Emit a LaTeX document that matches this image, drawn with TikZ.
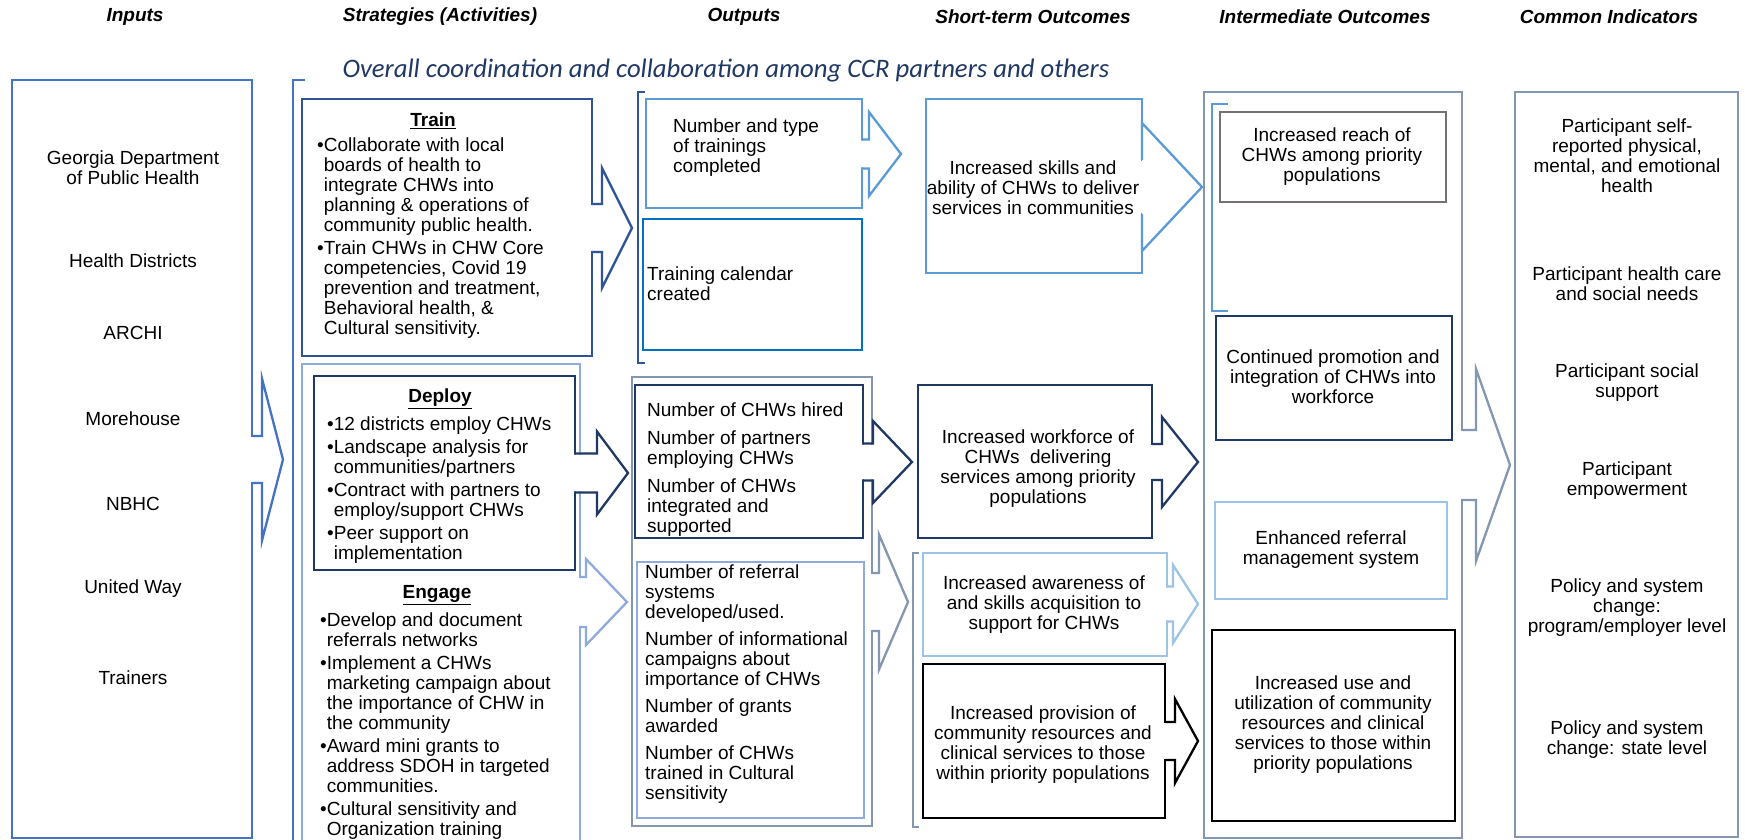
\documentclass[tikz,border=0pt]{standalone}
\usepackage{fontspec}
\setmainfont{Liberation Sans}
\newfontfamily\calfont{Carlito}
\usetikzlibrary{fit}
\definecolor{cIn}{HTML}{4472C4}
\definecolor{cTr}{HTML}{2F5597}
\definecolor{cLb}{HTML}{8FAADC}
\definecolor{cNv}{HTML}{1F3864}
\definecolor{cMb}{HTML}{5B9BD5}
\definecolor{cCal}{HTML}{0070C0}
\definecolor{cGb}{HTML}{8497B0}
\definecolor{cVl}{HTML}{9DC3E6}
\definecolor{cGr}{HTML}{767171}
\definecolor{cOv}{HTML}{203864}
\newcommand\fs{\fontsize{19}{20}\selectfont}
\newcommand\bl{•}
\newcommand\hg{\phantom{•}}
% #1 colour, #2 box edge x, #3 shaft end x, #4 tip x, #5 centre y, #6 shaft half, #7 head half
\newcommand\barrow[7]{%
  \fill[white] (#2-1.4,#5-#6+1.2) -- (#3,#5-#6+1.2) -- (#3,#5-#7) -- (#4,#5) -- (#3,#5+#7) -- (#3,#5+#6-1.2) -- (#2-1.4,#5+#6-1.2) -- cycle;
  \draw[draw=#1, lw, line join=miter] (#2,#5-#6) -- (#3,#5-#6) -- (#3,#5-#7) -- (#4,#5) -- (#3,#5+#7) -- (#3,#5+#6) -- (#2,#5+#6);
}
\begin{document}
\begin{tikzpicture}[x=1pt, y=-1pt,
  lw/.style={line width=2.3pt},
  bx/.style={draw=#1, line width=2.3pt, inner sep=0pt, fill=white},
  txt/.style={font=\fs, inner sep=0pt, align=center},
  ltxt/.style={font=\fs, inner sep=0pt, align=left},
  hd/.style={font=\fs\bfseries\itshape, inner sep=0pt},
  ttl/.style={font=\fs\bfseries, inner sep=0pt}]
\useasboundingbox (0,0) rectangle (1745,840);
\fill[white] (0,0) rectangle (1745,840);

% headers
\node[hd] (hIn) at (135,17) {Inputs};
\node[hd] (hSt) at (440,17) {Strategies (Activities)};
\node[hd] (hOu) at (744,17) {Outputs};
\node[hd] (hSh) at (1033,17) {Short-term Outcomes};
\node[hd] (hIm) at (1325,17) {Intermediate Outcomes};
\node[hd] (hCo) at (1609,17) {Common Indicators};
\node[font=\calfont\itshape\fontsize{26.7}{28}\selectfont, text=cOv, inner sep=0pt] (overall) at (726,71) {Overall coordination and collaboration among CCR partners and others};

% brackets
\draw[cIn, lw] (305,80) -- (293,80) -- (293,845);
\draw[cTr, lw] (645,92) -- (638,92) -- (638,363) -- (645,363);
\draw[cGb, lw] (919,553) -- (913,553) -- (913,827) -- (919,827);

% outer boxes
\node[bx=cIn, fit={(12,80)(252,838)}] (inputs) {};
\node[bx=cLb, fit={(302,364)(580,848)}] (strat2) {};
\node[bx=cGb, fit={(632,377)(872,826)}] (outgrey) {};
\node[bx=cGb, fit={(1204,92)(1462,838)}] (intouter) {};
\node[bx=cGb, fit={(1515,92)(1738,837)}] (common) {};
\draw[cMb, lw] (1228,104) -- (1212,104) -- (1212,311) -- (1228,311);

% inner boxes
\node[bx=cTr, fit={(302,99)(592,356)}] (train) {};
\node[bx=cNv, fit={(314,376)(575,570)}] (deploy) {};
\node[bx=cMb, fit={(646,99)(862,208)}] (outtype) {};
\node[bx=cCal, fit={(643,219)(862,350)}] (outcal) {};
\node[bx=cNv, fit={(635,385)(863,538)}] (outdeploy) {};
\node[bx=cLb, fit={(637,562)(864,818)}] (outengage) {};
\node[bx=cMb, fit={(926,99)(1142,273)}] (stskills) {};
\node[bx=cNv, fit={(918,385)(1152,538)}] (stwork) {};
\node[bx=cVl, fit={(923,553)(1167,656)}] (staware) {};
\node[bx=black, fit={(923,664)(1165,818)}] (stprov) {};
\node[bx=cGr, fit={(1220,112)(1446,202)}] (intreach) {};
\node[bx=cNv, fit={(1216,316)(1452,440)}] (intcont) {};
\node[bx=cVl, fit={(1215,502)(1447,599)}] (intenh) {};
\node[bx=black, fit={(1212,630)(1455,821)}] (intuse) {};

% block arrows
\barrow{cIn}{252}{262}{283}{459.5}{23.5}{81}
\barrow{cTr}{592}{602}{632}{228}{24}{60}
\barrow{cNv}{575}{597}{628}{473}{19.5}{41.5}
\barrow{cLb}{580}{586}{627}{602}{25}{43}
\barrow{cMb}{862}{869}{901}{154}{14.5}{42}
\barrow{cNv}{863}{873}{912}{462}{18.5}{41}
\barrow{cGb}{872}{879}{908}{602}{29}{67.5}
\barrow{cMb}{1142}{1142}{1202}{187}{27}{64}
\barrow{cNv}{1152}{1162}{1198}{462}{18}{45}
\barrow{cVl}{1167}{1173}{1198}{604}{17.5}{39}
\barrow{black}{1165}{1175}{1198}{741}{19}{42}
\barrow{cGb}{1462}{1476}{1510}{465}{35}{96}

% inputs
\node[txt] (i1) at (133,167.5) {Georgia Department\\of Public Health};
\node[txt] (i2) at (133,261) {Health Districts};
\node[txt] (i3) at (133,333) {ARCHI};
\node[txt] (i4) at (133,419) {Morehouse};
\node[txt] (i5) at (133,504) {NBHC};
\node[txt] (i6) at (133,589) {United Way};
\node[txt] (i7) at (133,678) {Trainers};

% strategies
\node[ttl] (tTrain) at (433,121) {\underline{Train}};
\node[ltxt, anchor=west] (lTrain) at (317,238.5) {\bl Collaborate with local\\\hg boards of health to\\\hg integrate CHWs into\\\hg planning \& operations of\\\hg community public health.\\[3pt]\bl Train CHWs in CHW Core\\\hg competencies, Covid 19\\\hg prevention and treatment,\\\hg Behavioral health, \&\\\hg Cultural sensitivity.};
\node[ttl] (tDeploy) at (440,399) {\underline{Deploy}};
\node[ltxt, anchor=west] (lDeploy) at (327,490) {\bl 12 districts employ CHWs\\[3pt]\bl Landscape analysis for\\\hg communities/partners\\[3pt]\bl Contract with partners to\\\hg employ/support CHWs\\[3pt]\bl Peer support on\\\hg implementation};
\node[ttl] (tEngage) at (437,595) {\underline{Engage}};
\node[ltxt, anchor=west] (lEngage) at (320,726) {\bl Develop and document\\\hg referrals networks\\[3pt]\bl Implement a CHWs\\\hg marketing campaign about\\\hg the importance of CHW in\\\hg the community\\[3pt]\bl Award mini grants to\\\hg address SDOH in targeted\\\hg communities.\\[3pt]\bl Cultural sensitivity and\\\hg Organization training};

% outputs
\node[ltxt, anchor=west] (oType) at (673,148) {Number and type\\of trainings\\completed};
\node[ltxt, anchor=west] (oCal) at (647,283.5) {Training calendar\\created};
\node[ltxt, anchor=west] (oDep) at (647,469.5) {Number of CHWs hired\\[8pt]Number of partners\\employing CHWs\\[8pt]Number of CHWs\\integrated and\\supported};
\node[ltxt, anchor=west] (oEng) at (645,684.5) {Number of referral\\systems\\developed/used.\\[7pt]Number of informational\\campaigns about\\importance of CHWs\\[7pt]Number of grants\\awarded\\[7pt]Number of CHWs\\trained in Cultural\\sensitivity};

% short-term
\node[txt] (sSk) at (1033,187.5) {Increased skills and\\ability of CHWs to deliver\\services in communities};
\node[txt] (sWo) at (1038,469) {Increased workforce of\\CHWs \ delivering\\services among priority\\populations};
\node[txt] (sAw) at (1044,605) {Increased awareness of\\and skills acquisition to\\support for CHWs};
\node[txt] (sPr) at (1043,744.5) {Increased provision of\\community resources and\\clinical services to those\\within priority populations};

% intermediate
\node[txt] (mRe) at (1332,157) {Increased reach of\\CHWs among priority\\populations};
\node[txt] (mCo) at (1333,377) {Continued promotion and\\integration of CHWs into\\workforce};
\node[txt] (mEn) at (1331,549.5) {Enhanced referral\\management system};
\node[txt] (mUs) at (1333,725) {Increased use and\\utilization of community\\resources and clinical\\services to those within\\priority populations};

% common indicators
\node[txt] (c1) at (1627,155.5) {Participant self-\\reported physical,\\mental, and emotional\\health};
\node[txt] (c2) at (1627,283.5) {Participant health care\\and social needs};
\node[txt] (c3) at (1627,383) {Participant social\\support};
\node[txt] (c4) at (1627,481) {Participant\\empowerment};
\node[txt] (c5) at (1627,607.5) {Policy and system\\change:\\program/employer level};
\node[txt] (c6) at (1627,740) {Policy and system\\change: state level};
\end{tikzpicture}
\end{document}
